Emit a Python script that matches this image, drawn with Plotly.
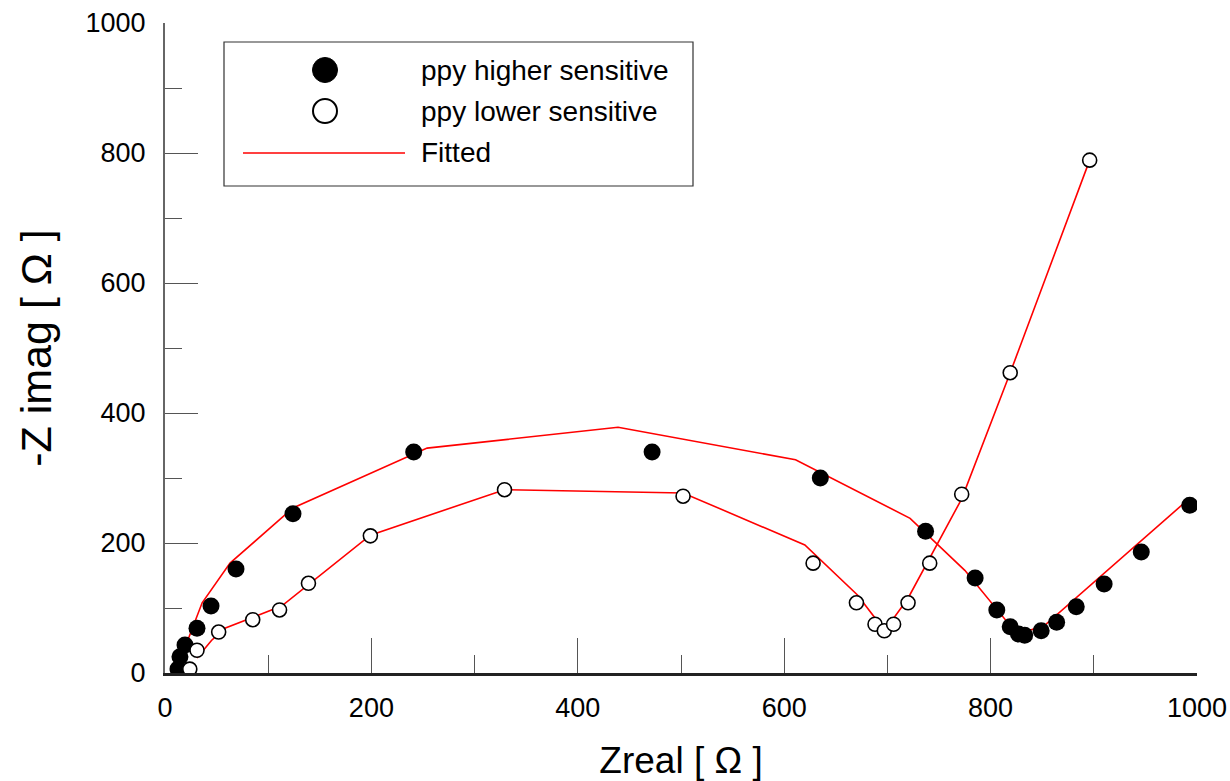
import plotly.graph_objects as go

# Measured data (Nyquist plot)
high_x = [12.6, 14.5, 19.4, 31, 44.6, 68.8, 124, 241, 472, 635, 737, 785, 806, 819, 827, 833, 849, 864, 883, 910, 946, 993]
high_y = [6, 25, 43, 69, 103, 160, 245, 340, 340, 300, 218, 146, 97, 71, 60, 58, 65, 78, 102, 137, 186, 258]

low_x = [24, 31, 52, 85, 111, 139, 199, 329, 502, 628, 670, 688, 697, 706, 720, 741, 772, 819, 896]
low_y = [6, 35, 63, 82, 97, 138, 211, 282, 272, 169, 108, 75, 65, 75, 108, 169, 275, 462, 789]

# Fitted curves
fit_high_x = [14, 22, 36, 63, 124, 254, 439, 611, 722, 775, 821, 833, 853, 993]
fit_high_y = [8, 50, 108, 169, 254, 346, 378, 328, 238, 158, 69, 63, 74, 269]

fit_low_x = [31, 45, 58, 113, 199, 329, 502, 620, 671, 697, 705, 720, 772, 819, 896]
fit_low_y = [23, 50, 69, 103, 212, 282, 277, 197, 120, 66, 82, 115, 268, 462, 789]

legend_labels = ["ppy higher sensitive", "ppy lower sensitive", "Fitted"]

FONT = "Liberation Sans, Arial, sans-serif"

fig = go.Figure()
fig.add_trace(go.Scatter(x=fit_high_x, y=fit_high_y, mode="lines",
                         line=dict(color="#ff0000", width=1.6), showlegend=False))
fig.add_trace(go.Scatter(x=fit_low_x, y=fit_low_y, mode="lines",
                         line=dict(color="#ff0000", width=1.6), showlegend=False))
fig.add_trace(go.Scatter(x=high_x, y=high_y, mode="markers",
                         marker=dict(size=17, color="black", line=dict(width=0)),
                         showlegend=False))
fig.add_trace(go.Scatter(x=low_x, y=low_y, mode="markers",
                         marker=dict(size=14, color="white", line=dict(width=1.6, color="black")),
                         showlegend=False))

W, H, L, T = 1032, 650, 165, 23
FW, FH = 1230, 781
def px(xp):
    return (xp - L) / W
def py(yp):
    return (T + H - yp) / H

shapes = [
    dict(type="rect", xref="paper", yref="paper", x0=px(224), x1=px(693), y0=py(186), y1=py(42),
         line=dict(color="#333333", width=1.2), fillcolor="white", layer="above"),
    dict(type="circle", xref="paper", yref="paper", xsizemode="pixel", ysizemode="pixel",
         xanchor=px(325), yanchor=py(70), x0=-12.5, x1=12.5, y0=-12.5, y1=12.5,
         fillcolor="black", line=dict(color="black", width=1), layer="above"),
    dict(type="circle", xref="paper", yref="paper", xsizemode="pixel", ysizemode="pixel",
         xanchor=px(325), yanchor=py(111), x0=-12, x1=12, y0=-12, y1=12,
         fillcolor="white", line=dict(color="black", width=2), layer="above"),
    dict(type="line", xref="paper", yref="paper", x0=px(243), x1=px(405), y0=py(153), y1=py(153),
         line=dict(color="#ff0000", width=1.6), layer="above"),
]
annotations = []
for lab, yy in zip(legend_labels, [70, 111, 153]):
    annotations.append(dict(xref="paper", yref="paper", x=px(419), y=py(yy), text=lab,
                            showarrow=False, xanchor="left", yanchor="middle",
                            font=dict(family=FONT, size=28, color="black")))

fig.update_layout(
    width=FW, height=FH,
    margin=dict(l=L, r=FW - L - W, t=T, b=FH - T - H),
    paper_bgcolor="white", plot_bgcolor="white",
    font=dict(family=FONT, color="black"),
    shapes=shapes, annotations=annotations,
    xaxis=dict(range=[0, 1000], tickvals=[0, 200, 400, 600, 800, 1000], automargin=False,
               ticks="inside", ticklen=35, tickwidth=1, tickcolor="#555555",
               minor=dict(tickvals=[100, 300, 500, 700, 900], ticks="inside", ticklen=18,
                          tickwidth=1, tickcolor="#555555"),
               showgrid=False, zeroline=False, showline=True, linecolor="#222222", linewidth=2.5,
               tickfont=dict(family=FONT, size=27, color="black"), ticklabelstandoff=9,
               title=dict(text="Zreal [ Ω ]", font=dict(family=FONT, size=37, color="black"),
                          standoff=32)),
    yaxis=dict(range=[0, 1000], tickvals=[0, 200, 400, 600, 800, 1000], automargin=False,
               ticks="inside", ticklen=33, tickwidth=1, tickcolor="#555555",
               minor=dict(tickvals=[100, 300, 500, 700, 900], ticks="inside", ticklen=17,
                          tickwidth=1, tickcolor="#555555"),
               showgrid=False, zeroline=False, showline=True, linecolor="#666666", linewidth=2,
               tickfont=dict(family=FONT, size=27, color="black"), ticklabelstandoff=12,
               title=dict(text="-Z imag [ Ω ]", font=dict(family=FONT, size=43, color="black"),
                          standoff=20)),
)

# remove the browser's default 8px body margin so the figure sits at the window origin
fig.write_html("out.html", config={"displayModeBar": False},
               post_script="document.body.style.margin='0px';document.body.style.overflow='hidden';")
